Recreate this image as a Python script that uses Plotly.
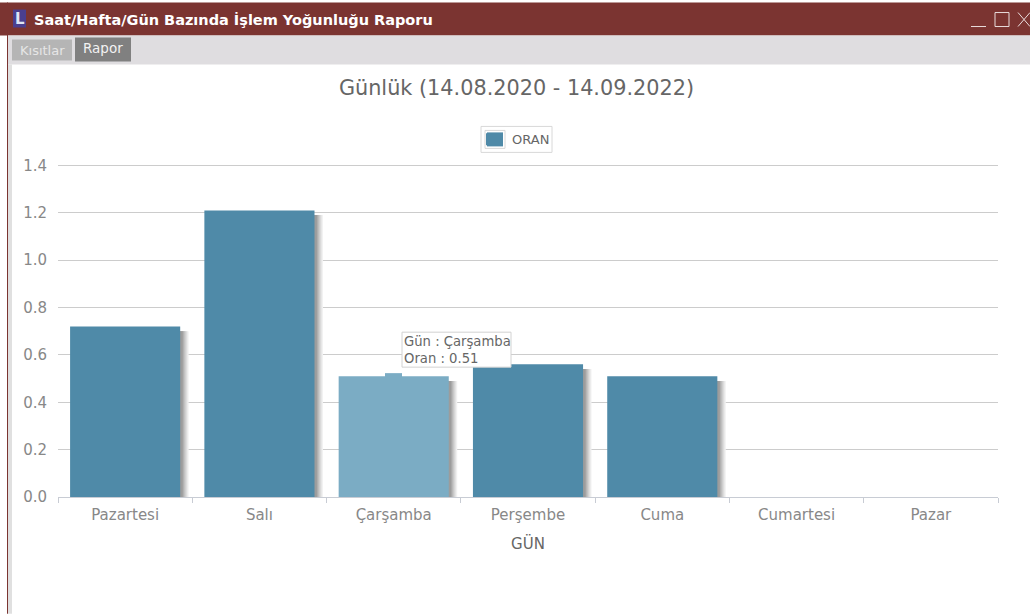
import plotly.graph_objects as go

days = ["Pazartesi", "Salı", "Çarşamba", "Perşembe", "Cuma", "Cumartesi", "Pazar"]
oran = [0.72, 1.21, 0.51, 0.56, 0.51, 0, 0]
bar_colors = ["#4f8aa8", "#4f8aa8", "#7bacc4", "#4f8aa8", "#4f8aa8", "#4f8aa8", "#4f8aa8"]
shadow_colors = ["#f2f2f2", "#e6e6e6", "#d9d9d9", "#cbcbcb", "#bcbcbc", "#adadad", "#9c9c9c"]
shadow_offsets = [-0.347, -0.3545, -0.362, -0.3695, -0.377, -0.3845, -0.392]

W, H = 1030, 614
Y_MAX = 1.41
L, R, T, B = 58, 32, 165 - (Y_MAX - 1.4) * 332 / 1.4, 117
FONT = "DejaVu Sans, Verdana, sans-serif"


def px(x):
    return (x - L) / (W - L - R)


def py(y):
    return 1 - (y - T) / (H - T - B)


def box(x0, y0, x1, y1, color, line=None, layer="above"):
    return dict(type="rect", xref="paper", yref="paper", x0=px(x0), x1=px(x1), y0=py(y0), y1=py(y1),
                fillcolor=color, line=dict(color=line or color, width=1 if line else 0), layer=layer)


def seg(x0, y0, x1, y1, color, width=1):
    return dict(type="line", xref="paper", yref="paper", x0=px(x0), x1=px(x1), y0=py(y0), y1=py(y1),
                line=dict(color=color, width=width), layer="above")


def text(x, y, s, size, color, anchor="left", bold=False, family=FONT):
    return dict(xref="paper", yref="paper", x=px(x), y=py(y), text=f"<b>{s}</b>" if bold else s,
                showarrow=False, xanchor=anchor, yanchor="middle", borderpad=0,
                font=dict(size=size, color=color, family=family))


fig = go.Figure()
for c, o in zip(shadow_colors, shadow_offsets):
    fig.add_trace(go.Bar(x=days, y=[max(v - 0.02, 0) for v in oran], width=0.82, offset=o,
                         marker=dict(color=c, line_width=0), showlegend=False, hoverinfo="skip"))
fig.add_trace(go.Bar(x=days, y=oran, width=0.82, offset=-0.41, name="ORAN",
                     marker=dict(color=bar_colors, line_width=0)))

shapes = [
    box(0, 2, W, 35, "#7b3431"),
    box(7, 2, 8, H, "#7b3431"),
    box(8, 35, W, 64, "#dfdde0"),
    box(8, 64, 12, H, "#e0e0e0"),
    box(12, 39, 72, 60, "#b5b5b5"),
    box(75, 37, 131, 61, "#808080"),
    box(13, 9, 26, 27, "#4a3f8f"),
    box(402, 332, 511, 367, "white", "#d2d2d2"),
    box(385, 373, 402, 378, "#7bacc4", layer="below"),
    seg(971, 26, 986, 26, "#e9dcdc"),
    box(995, 12, 1009, 26, "rgba(0,0,0,0)", "#e9dcdc"),
    seg(1018, 12, 1030, 26, "#e9dcdc"),
    seg(1018, 26, 1030, 12, "#e9dcdc"),
    box(481, 126, 552, 152, "white", "#d8d8d8"),
    box(485, 130, 505, 148, "white", "#d8d8d8"),
    box(487, 132, 503, 146, "#4f8aa8"),
]
annotations = [
    text(19.5, 18, "L", 15, "#dfe6f5", "center", True),
    text(33, 19, "Saat/Hafta/Gün Bazında İşlem Yoğunluğu Raporu", 14.5, "white", bold=True),
    text(42, 50, "Kısıtlar", 13, "#e6e6e6", "center"),
    text(103, 48, "Rapor", 13.5, "#f2f2f2", "center"),
    text(403, 341, "Gün : Çarşamba", 13.2, "#666666"),
    text(403, 358, "Oran : 0.51", 13.2, "#666666"),
]

fig.update_layout(
    width=W, height=H, autosize=False,
    margin=dict(l=L, r=R, t=T, b=B, pad=0),
    paper_bgcolor="white", plot_bgcolor="white",
    barmode="overlay", bargap=0.18,
    font=dict(family=FONT, color="#888888", size=15),
    title=dict(text="Günlük (14.08.2020 - 14.09.2022)", x=516.5 / W, xanchor="center", y=1 - 88 / H, yanchor="middle",
               font=dict(size=20.8, color="#666666", family=FONT)),
    legend=dict(orientation="h", x=px(472), xanchor="left", y=py(139), yanchor="middle",
                borderwidth=0, bgcolor="rgba(0,0,0,0)",
                font=dict(size=13, color="#666666", family=FONT), itemwidth=30),
    xaxis=dict(categoryorder="array", categoryarray=days, tickson="boundaries", ticks="outside", ticklen=5,
               tickcolor="#c8ccd4", linecolor="#c8ccd4", showline=True, showgrid=False,
               tickfont=dict(size=15, color="#888888"), ticklabelstandoff=4,
               title=dict(text="GÜN", standoff=15, font=dict(size=15, color="#666666"))),
    yaxis=dict(range=[0, Y_MAX], tick0=0, dtick=0.2, tickformat=".1f", showgrid=True, gridcolor="#cccccc", gridwidth=1,
               zeroline=False, showline=False, ticks="", ticklabelstandoff=10,
               tickfont=dict(size=15, color="#888888")),
    shapes=shapes, annotations=annotations, hovermode="closest",
)

fig.write_html("out.html", config={"displayModeBar": False},
               post_script="document.body.style.margin='0';document.body.style.overflow='hidden';")
